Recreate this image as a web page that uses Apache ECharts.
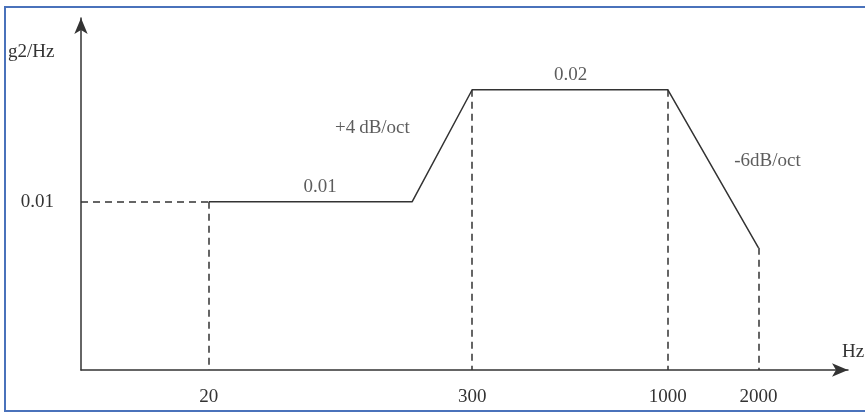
<!DOCTYPE html>
<html>
<head>
    <meta charset="utf-8">
    <title>PSD profile</title>
    <script src="https://cdn.jsdelivr.net/npm/echarts@6/dist/echarts.min.js"></script>
</head>
<body style="margin:0;background:#fff">
    <div id="main" style="width: 865px;height:415px;"></div>

    <script type="text/javascript">
        // schematic frequency axis: positions are not to scale, so each label has its own place
        var freqLabels = ['20', '300', '1000', '2000'];
        var freqPos = [1.0, 3.06, 4.59, 5.30];
        var kneePos = 2.59;          // start of the +4 dB/oct ramp
        var lowLevel = 0.01;
        var highLevel = 0.02;
        var endLevel = 0.0059;       // level at 2000 Hz after -6 dB/oct
        var baseLevel = -0.005;      // where the Hz axis sits

        var profile = [
            [freqPos[0], lowLevel],
            [kneePos, lowLevel],
            [freqPos[1], highLevel],
            [freqPos[2], highLevel],
            [freqPos[3], endLevel]
        ];

        var notes = [
            { name: '0.01', value: [1.87, lowLevel], pos: 'top', dist: 5 },
            { name: '0.02', value: [3.83, highLevel], pos: 'top', dist: 5 },
            { name: '+4\u2009dB/oct', value: [2.28, 0.0166], pos: 'inside', dist: 0 },
            { name: '-6dB/oct', value: [5.37, 0.0136], pos: 'inside', dist: 0 }
        ];

        var font = '"Liberation Serif", "DejaVu Serif", serif';
        var ink = '#333';

        var myChart = echarts.init(document.getElementById('main'));

        var option = {
            animation: false,
            textStyle: { fontFamily: font },
            grid: { left: 81, right: 17, top: 18, bottom: 45 },
            graphic: [
                {
                    type: 'rect',
                    shape: { x: 5, y: 7, width: 900, height: 404 },
                    style: { fill: 'none', stroke: '#4a72bb', lineWidth: 2 }
                },
                {
                    type: 'text', left: 8, top: 43,
                    style: { text: 'g2/Hz', font: '19px ' + font, fill: ink }
                },
                {
                    type: 'text', left: 842, top: 343,
                    style: { text: 'Hz', font: '19px ' + font, fill: ink }
                }
            ],
            xAxis: {
                type: 'value',
                min: 0,
                max: 6,
                splitLine: { show: false },
                axisLine: {
                    onZero: false,
                    symbol: ['none', 'arrow'],
                    symbolSize: [10, 16],
                    lineStyle: { color: ink, width: 1.5 }
                },
                axisTick: { show: false },
                axisLabel: {
                    customValues: freqPos,
                    formatter: function (v) {
                        var i = freqPos.indexOf(v);
                        return i >= 0 ? freqLabels[i] : '';
                    },
                    margin: 18,
                    fontSize: 19,
                    color: ink,
                    fontFamily: font
                }
            },
            yAxis: {
                type: 'value',
                min: baseLevel,
                max: 0.0264,
                splitLine: { show: false },
                axisLine: {
                    show: true,
                    onZero: false,
                    symbol: ['none', 'arrow'],
                    symbolSize: [10, 16],
                    lineStyle: { color: ink, width: 1.5 }
                },
                axisTick: { show: false },
                axisLabel: {
                    customValues: [lowLevel],
                    formatter: function (v) { return v.toFixed(2); },
                    margin: 27,
                    fontSize: 19,
                    color: ink,
                    fontFamily: font
                }
            },
            series: [
                {
                    type: 'line',
                    data: profile,
                    symbol: 'none',
                    lineStyle: { color: ink, width: 1.5 },
                    markLine: {
                        silent: true,
                        symbol: 'none',
                        label: { show: false },
                        lineStyle: { color: ink, width: 1.5, type: [7, 5] },
                        data: [
                            [{ coord: [0, lowLevel] }, { coord: [freqPos[0], lowLevel] }],
                            [{ coord: [freqPos[0], lowLevel] }, { coord: [freqPos[0], baseLevel] }],
                            [{ coord: [freqPos[1], highLevel] }, { coord: [freqPos[1], baseLevel] }],
                            [{ coord: [freqPos[2], highLevel] }, { coord: [freqPos[2], baseLevel] }],
                            [{ coord: [freqPos[3], endLevel] }, { coord: [freqPos[3], baseLevel] }]
                        ]
                    }
                },
                {
                    type: 'scatter',
                    symbolSize: 1,
                    itemStyle: { color: 'rgba(0,0,0,0)' },
                    data: notes.map(function (n) {
                        return {
                            name: n.name,
                            value: n.value,
                            label: { position: n.pos, distance: n.dist }
                        };
                    }),
                    label: {
                        show: true,
                        formatter: '{b}',
                        fontSize: 19,
                        color: ink,
                        fontFamily: font
                    }
                }
            ]
        };

        myChart.setOption(option);
    </script>
</body>
</html>
